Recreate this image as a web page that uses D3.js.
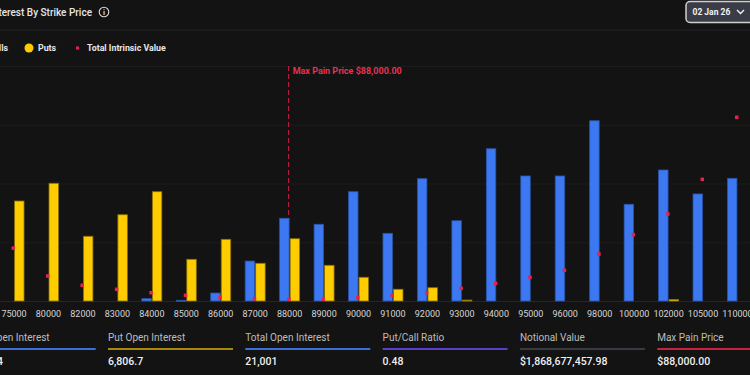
<!DOCTYPE html>
<html lang="en">
<head>
  <meta charset="UTF-8" />
  <title>Open Interest By Strike Price</title>
  <script src="https://d3js.org/d3.v7.min.js"></script>
  <style>
    body { margin: 0; padding: 0; background: #131313; overflow: hidden; }
    svg { display: block; font-family: Roboto, "Noto Sans", sans-serif; }
  </style>
</head>
<body>
  <svg width="750" height="375"></svg>
  <script>
    // strikes shown on the x axis
    const strikes = ["75000", "80000", "82000", "83000", "84000", "85000", "86000", "87000", "88000",
      "89000", "90000", "91000", "92000", "93000", "94000", "95000", "96000", "98000", "100000",
      "102000", "105000", "110000"];
    // open interest (BTC)
    const calls = [0, 0, 0, 0, 20, 6, 68, 340, 704, 653, 930, 576, 1041, 683, 1296, 1064, 1064, 1534, 823, 1115, 911, 1044];
    const puts = [851, 1002, 551, 734, 930, 355, 525, 321, 530, 304, 202, 100, 113, 8, 0, 0, 0, 0, 0, 12, 0, 0];
    // total intrinsic value ($M)
    const intrinsic = [90, 42.5, 26.7, 19.9, 14.1, 9.7, 6.3, 3.6, 2.9, 3.3, 5.6, 9.7, 14.1, 21.6, 30.1, 40.3, 52.3, 80, 112.9, 148.1, 207.1, 312.7];

    const maxPain = "88000";
    const summaryLabels = ["Call Open Interest", "Put Open Interest", "Total Open Interest", "Put/Call Ratio", "Notional Value", "Max Pain Price"];
    const summaryValues = ["14,194", "6,806.7", "21,001", "0.48", "$1,868,677,457.98", "$88,000.00"];
    const summaryColors = ["#3d6fd8", "#a8880c", "#3d6fd8", "#5b3fc8", "#3a3a42", "#c8203f"];

    const svg = d3.select("svg");
    const blue = "#3b78f2", yellow = "#ffcc00", red = "#e5234f";

    // header
    svg.append("text")
      .attr("x", 92).attr("y", 16)
      .attr("text-anchor", "end")
      .attr("fill", "#e6e6e6")
      .attr("font-size", 10).attr("font-weight", 500)
      .text("Open Interest By Strike Price");
    svg.append("circle").attr("cx", 104).attr("cy", 12).attr("r", 4.8)
      .attr("fill", "none").attr("stroke", "#dcdcdc").attr("stroke-width", 1.1);
    svg.append("text").attr("x", 104).attr("y", 15).attr("text-anchor", "middle")
      .attr("fill", "#dcdcdc").attr("font-size", 7.5).attr("font-weight", 700).text("i");

    svg.append("line").attr("x1", 0).attr("x2", 750).attr("y1", 30).attr("y2", 30)
      .attr("stroke", "#24242c");

    // date picker
    svg.append("rect").attr("x", 686).attr("y", 1.5).attr("width", 70).attr("height", 21).attr("rx", 4)
      .attr("fill", "#3a3d47").attr("stroke", "#d0d0d0").attr("stroke-width", 1.5);
    svg.append("text").attr("x", 692.5).attr("y", 15.2)
      .attr("fill", "#f2f2f2").attr("font-size", 8.5).attr("font-weight", 700).text("02 Jan 26");
    svg.append("path").attr("d", "M737,10 L740.5,13.5 L744,10")
      .attr("fill", "none").attr("stroke", "#f2f2f2").attr("stroke-width", 1.4);

    // legend
    const legend = svg.append("g").attr("font-size", 8.8).attr("font-weight", 700).attr("fill", "#e6e6e6");
    const callsTxt = legend.append("text").attr("x", 8).attr("y", 51).attr("text-anchor", "end").text("Calls");
    const cw = callsTxt.node().getComputedTextLength();
    legend.append("circle").attr("cx", 8 - cw - 9).attr("cy", 48).attr("r", 4.5).attr("fill", blue);
    legend.append("circle").attr("cx", 29).attr("cy", 48).attr("r", 4.5).attr("fill", yellow);
    legend.append("text").attr("x", 38).attr("y", 51).text("Puts");
    legend.append("rect").attr("x", 76).attr("y", 46.5).attr("width", 3).attr("height", 3).attr("fill", red);
    legend.append("text").attr("x", 87).attr("y", 51).text("Total Intrinsic Value");

    // scales
    const x = d3.scaleBand().domain(strikes).range([-3.2, 754.7]);
    const x1 = d3.scaleBand().domain(["calls", "puts"]).range([0, 20]).paddingInner(0.1);
    const y = d3.scaleLinear().domain([0, 2000]).range([301, 66]);
    const yIv = d3.scaleLinear().domain([0, 400]).range([301, 66]);

    // grid
    svg.append("g")
      .selectAll("line").data(y.ticks(5)).join("line")
      .attr("x1", 0).attr("x2", 750)
      .attr("y1", d => y(d) + 0.5).attr("y2", d => y(d) + 0.5)
      .attr("stroke", d => d === 0 ? "#262626" : "#1d1d1d");

    // max pain line
    const mpX = x(maxPain) + x.bandwidth() / 2 - 1;
    svg.append("line").attr("x1", mpX).attr("x2", mpX).attr("y1", 66).attr("y2", 301)
      .attr("stroke", "#c8203f").attr("stroke-width", 1).attr("stroke-dasharray", "5,3");
    svg.append("text").attr("x", mpX + 4).attr("y", 74)
      .attr("fill", "#e8304f").attr("font-size", 9).attr("font-weight", 700)
      .text("Max Pain Price $88,000.00");

    // bars
    const rows = strikes.map((s, i) => ({ strike: s, calls: calls[i], puts: puts[i], iv: intrinsic[i] }));
    const groups = svg.append("g").selectAll("g").data(rows).join("g")
      .attr("transform", d => `translate(${x(d.strike) + x.bandwidth() / 2 - 10},0)`);
    groups.selectAll("rect")
      .data(d => [{ k: "calls", v: d.calls }, { k: "puts", v: d.puts }].filter(e => e.v > 0))
      .join("rect")
      .attr("x", e => x1(e.k))
      .attr("width", x1.bandwidth())
      .attr("y", e => y(e.v))
      .attr("height", e => Math.max(1, y(0) - y(e.v)))
      .attr("fill", e => e.k === "calls" ? blue : yellow)
      .attr("stroke", e => e.k === "calls" ? "#2b54a8" : "#8c7000")
      .attr("stroke-width", 0.8);

    // intrinsic value dots
    svg.append("g").selectAll("rect").data(rows).join("rect")
      .attr("x", d => x(d.strike) + x.bandwidth() / 2 - 2.5)
      .attr("y", d => yIv(d.iv) - 1.75)
      .attr("width", 3.5).attr("height", 3.5)
      .attr("fill", red);

    // x axis labels
    svg.append("g").selectAll("text").data(strikes).join("text")
      .attr("x", d => x(d) + x.bandwidth() / 2)
      .attr("y", 316.5)
      .attr("text-anchor", "middle")
      .attr("fill", "#d6d6d6").attr("font-size", 9)
      .text(d => d);

    // summary cards
    const cards = svg.append("g").selectAll("g").data(summaryLabels).join("g")
      .attr("transform", (d, i) => `translate(${-29.3 + i * 137.3},0)`);
    cards.append("text").attr("y", 340.5).attr("fill", "#bdbdbd").attr("font-size", 10).text(d => d);
    cards.append("line").attr("x1", 0).attr("x2", 125).attr("y1", 349).attr("y2", 349)
      .attr("stroke", (d, i) => summaryColors[i]).attr("stroke-width", 2);
    cards.append("text").attr("y", 364.5).attr("fill", "#f0f0f0").attr("font-size", 10.5).attr("font-weight", 500)
      .text((d, i) => summaryValues[i]);
  </script>
</body>
</html>
